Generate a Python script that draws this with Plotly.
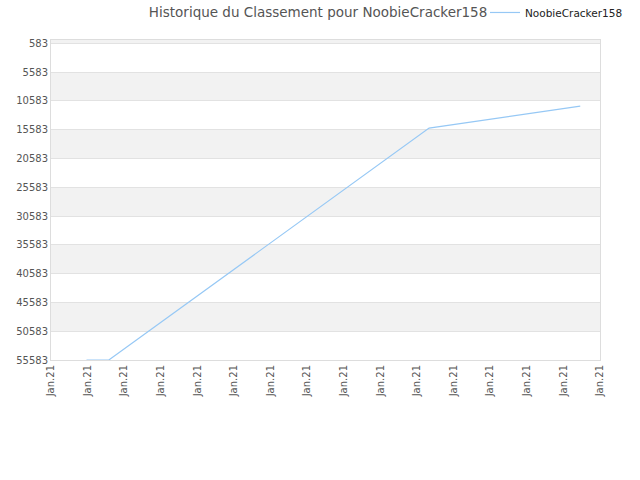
import plotly.graph_objects as go

# Data
x_pos = [0.97, 1.58, 10.33, 14.46]
ranks = [55583, 55583, 15300, 11500]
series_name = "NoobieCracker158"
tick_vals_x = list(range(16))
tick_text_x = ["Jan.21"] * 16
y_ticks = [583, 5583, 10583, 15583, 20583, 25583, 30583, 35583, 40583, 45583, 50583, 55583]

fig = go.Figure()
fig.add_trace(go.Scatter(
    x=x_pos, y=ranks, mode="lines", name=series_name,
    line=dict(color="rgb(150,200,245)", width=1.2),
    showlegend=True,
))

shapes = []
# alternating bands
band_edges = [0] + y_ticks
for i in range(len(band_edges) - 1):
    if i % 2 == 0:
        shapes.append(dict(type="rect", xref="paper", yref="y", x0=0, x1=1,
                           y0=band_edges[i], y1=band_edges[i + 1],
                           fillcolor="#f2f2f2", line=dict(width=0), layer="below"))
fig.update_layout(
    shapes=shapes,
    width=640, height=480,
    margin=dict(l=51, r=40, t=40, b=120, autoexpand=False),
    paper_bgcolor="white", plot_bgcolor="white",
    font=dict(family="DejaVu Sans", size=10, color="#555555"),
    title=dict(text="Historique du Classement pour NoobieCracker158",
               x=0.497, xref="container", xanchor="center",
               y=0.975, yref="container", yanchor="middle",
               font=dict(size=13.5, color="#555555")),
    legend=dict(orientation="h", x=0.7905, xanchor="left", y=1.086, yanchor="middle",
                font=dict(size=10.5, color="#222222"), bgcolor="rgba(0,0,0,0)"),
    xaxis=dict(range=[0, 15], tickvals=tick_vals_x, ticktext=tick_text_x,
               tickangle=-90, showgrid=False, zeroline=False, automargin=False,
               showline=True, linecolor="#dddddd", mirror=True,
               ticks="", tickfont=dict(size=10, color="#555555")),
    yaxis=dict(range=[55583, 0], tickvals=y_ticks, ticktext=[str(v) for v in y_ticks],
               showgrid=True, gridcolor="#e2e2e2", zeroline=False, automargin=False,
               showline=True, linecolor="#dddddd", mirror=True,
               ticks="", tickfont=dict(size=10, color="#555555")),
)

fig.write_html("out.html", config={"displayModeBar": False},
               post_script="document.body.style.margin='0';")
